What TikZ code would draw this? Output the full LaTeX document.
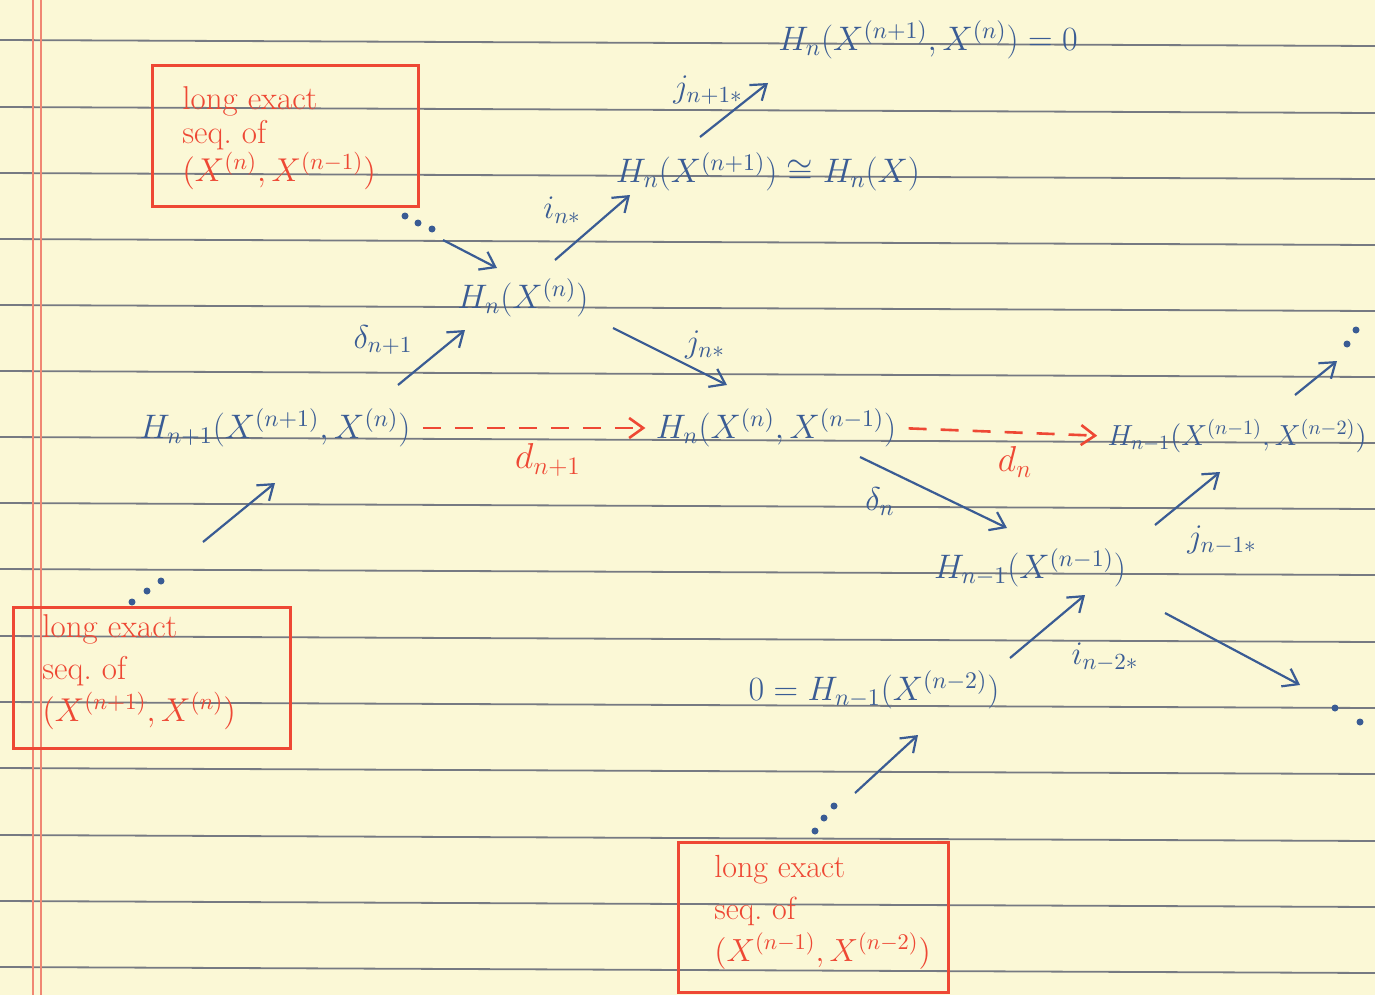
\RequirePackage{fix-cm}
\documentclass[tikz,border=0pt]{standalone}
\usetikzlibrary{arrows.meta,calc}
\definecolor{paper}{RGB}{251,248,214}
\definecolor{ink}{RGB}{58,92,148}
\definecolor{redink}{RGB}{238,72,52}
\definecolor{rulecol}{RGB}{118,122,130}
\definecolor{margincol}{RGB}{240,135,115}
\begin{document}
\begin{tikzpicture}[x=0.5pt,y=-0.5pt,
  every node/.style={inner sep=1pt},
  term/.style={text=ink, font=\fontsize{17}{21}\selectfont},
  lab/.style={text=ink, font=\fontsize{16.5}{20}\selectfont},
  redlab/.style={text=redink, font=\fontsize{18}{20}\selectfont},
  map/.style={draw=ink, line width=1.1pt, -{Straight Barb[length=7pt,width=10pt]}},
  dmap/.style={draw=redink, line width=1.3pt, dash pattern=on 9pt off 7pt, -{Straight Barb[length=7pt,width=10pt]}},
  redbox/.style={draw=redink, line width=1.5pt},
  boxtext/.style={text=redink, align=left},
  dot/.style={circle, fill=ink, inner sep=0pt, minimum size=3.5pt},
]
\fill[paper] (0,0) rectangle (1375,995);
\useasboundingbox (0,0) rectangle (1375,995);
% ruled lines
\foreach \y in {40,107,173,239,305,371,437,503,569,636,702,768,835,901,967}
  \draw[rulecol, line width=0.9pt] (0,\y) -- (1375,\y+6);
% margin lines
\draw[margincol, line width=0.8pt] (33,0) -- (33,995);
\draw[margincol, line width=0.8pt] (41,0) -- (41,995);

% red boxes
\node[redbox, minimum width=133pt, minimum height=70pt] (box1) at (285,136) {};
\node[boxtext, anchor=west, font=\fontsize{16.5}{17}\selectfont] (t1) at (180,138)
  {long exact\\seq.\ of\\$(X^{(n)},X^{(n-1)})$};
\node[redbox, minimum width=138.5pt, minimum height=70.5pt] (box2) at (151.5,677.5) {};
\node[boxtext, anchor=west, font=\fontsize{16.5}{21}\selectfont] (t2) at (40,672)
  {long exact\\seq.\ of\\$(X^{(n+1)},X^{(n)})$};
\node[redbox, minimum width=135pt, minimum height=75pt] (box3) at (813,917) {};
\node[boxtext, anchor=west, font=\fontsize{16}{21}\selectfont] (t3) at (712,912)
  {long exact\\seq.\ of\\$(X^{(n-1)},X^{(n-2)})$};

% terms
\node[term] (A) at (928,40) {$H_n(X^{(n+1)},X^{(n)}) = 0$};
\node[term] (B) at (768,172) {$H_n(X^{(n+1)}) \cong H_n(X)$};
\node[term] (C) at (523,298) {$H_n(X^{(n)})$};
\node[term] (D) at (275,428) {$H_{n+1}(X^{(n+1)},X^{(n)})$};
\node[term] (E) at (776,428) {$H_n(X^{(n)},X^{(n-1)})$};
\node[term, font=\fontsize{14.5}{18}\selectfont, anchor=east] (F) at (1369,436) {$H_{n-1}(X^{(n-1)},X^{(n-2)})$};
\node[term] (G) at (1030,568) {$H_{n-1}(X^{(n-1)})$};
\node[term] (H) at (874,690) {$0 = H_{n-1}(X^{(n-2)})$};

% dots
\node[dot] (d1) at (405,216) {};
\node[dot] (d2) at (418,223) {};
\node[dot] (d3) at (432,229) {};
\node[dot] (e1) at (132,602) {};
\node[dot] (e2) at (147,591) {};
\node[dot] (e3) at (161,581) {};
\node[dot] (f1) at (815,831) {};
\node[dot] (f2) at (824,818) {};
\node[dot] (f3) at (834,806) {};
\node[dot] (g1) at (1347,344) {};
\node[dot] (g2) at (1356,330) {};
\node[dot] (h1) at (1335,708) {};
\node[dot] (h2) at (1360,722) {};

% blue maps
\draw[map] ($(d3)+(11,11)$) -- ($(C)+(-26,-30)$);
\draw[map] ($(C)+(32,-38)$) -- ($(B)+(-138,23)$);
\draw[map] ($(B)+(-68,-35)$) -- ($(A)+(-160,43)$);
\draw[map] ($(D)+(123,-43)$) -- ($(C)+(-58,32)$);
\draw[map] ($(C)+(90,30)$) -- ($(E)+(-49,-43)$);
\draw[map] ($(E)+(84,29)$) -- ($(G)+(-23,-40)$);
\draw[map] ($(G)+(125,-43)$) -- ($(F.east)+(-149,36)$);
\draw[map] ($(F.east)+(-74,-41)$) -- ($(g1)+(-10,17)$);
\draw[map] ($(H)+(136,-32)$) -- ($(G)+(55,27)$);
\draw[map] ($(G)+(135,45)$) -- ($(h1)+(-35,-23)$);
\draw[map] ($(e3)+(42,-39)$) -- ($(D)+(0,55)$);
\draw[map] ($(f3)+(21,-13)$) -- ($(H)+(44,45)$);

% red dashed maps
\draw[dmap, shorten <=5pt, shorten >=4pt] (D.east) -- (E.west);
\draw[dmap, shorten <=5pt, shorten >=4pt] (E.east) -- (F.west);

% labels
\node[lab] (li) at (562,210) {$i_{n*}$};
\node[lab] (lj1) at (708,90) {$j_{n+1*}$};
\node[lab] (ld1) at (383,340) {$\delta_{n+1}$};
\node[lab] (lj) at (705,345) {$j_{n*}$};
\node[redlab] (ldn1) at (548,460) {$d_{n+1}$};
\node[redlab] (ldn) at (1015,462) {$d_n$};
\node[lab] (ldn2) at (880,502) {$\delta_n$};
\node[lab] (lj2) at (1222,540) {$j_{n-1*}$};
\node[lab] (li2) at (1105,657) {$i_{n-2*}$};
\end{tikzpicture}
\end{document}
